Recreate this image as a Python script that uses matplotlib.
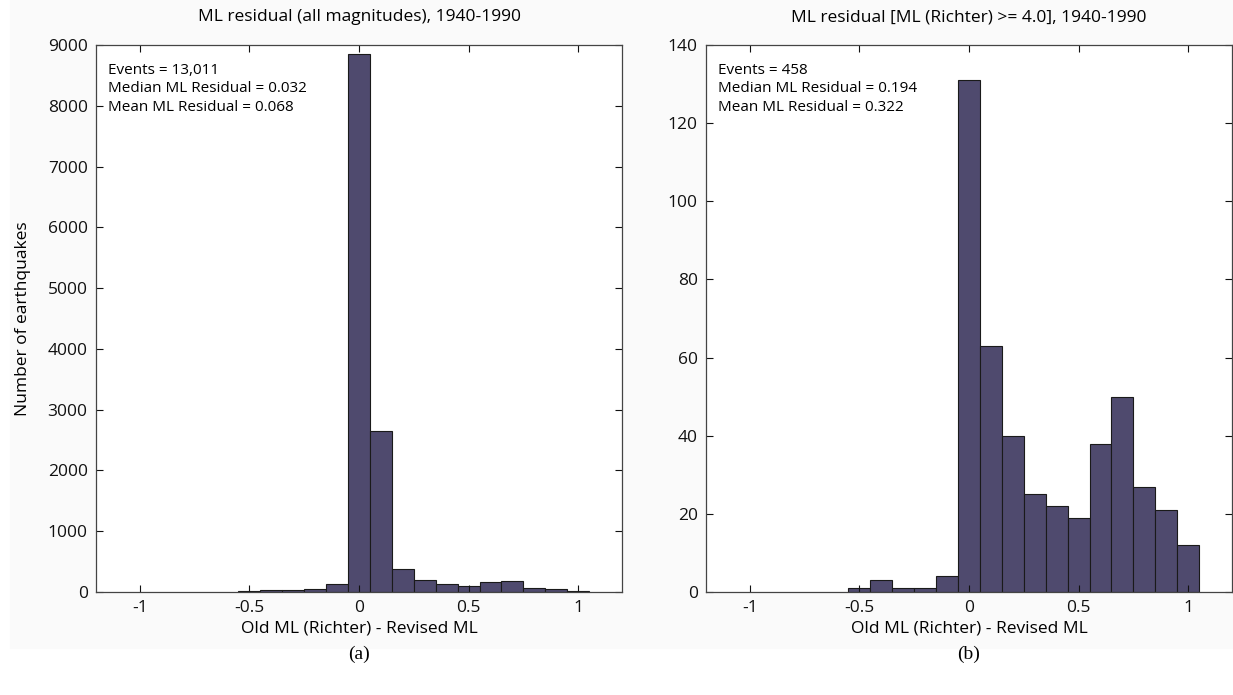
import matplotlib
matplotlib.use("Agg")
import matplotlib.pyplot as plt
from matplotlib.patches import Rectangle

bin_centers = [-0.5, -0.4, -0.3, -0.2, -0.1, 0.0, 0.1, 0.2, 0.3, 0.4, 0.5, 0.6, 0.7, 0.8, 0.9, 1.0]
counts_all = [10, 28, 33, 44, 127, 8860, 2650, 378, 191, 127, 94, 160, 181, 66, 49, 12]
counts_m4 = [1, 3, 1, 1, 4, 131, 63, 40, 25, 22, 19, 38, 50, 27, 21, 12]

titles = ["ML residual (all magnitudes), 1940-1990",
          "ML residual [ML (Richter) >= 4.0], 1940-1990"]
stats_texts = ["Events = 13,011\nMedian ML Residual = 0.032\nMean ML Residual = 0.068",
               "Events = 458\nMedian ML Residual = 0.194\nMean ML Residual = 0.322"]
xticks = [-1, -0.5, 0, 0.5, 1]
xtick_labels = ["-1", "-0.5", "0", "0.5", "1"]
yticks_all = [0, 1000, 2000, 3000, 4000, 5000, 6000, 7000, 8000, 9000]
yticks_m4 = [0, 20, 40, 60, 80, 100, 120, 140]
panel_labels = ["(a)", "(b)"]

plt.rcParams['font.family'] = ['Open Sans', 'DejaVu Sans']
W, H = 1233, 695
fig = plt.figure(figsize=(W / 100, H / 100), dpi=100)
fig.patch.set_facecolor('white')
fig.patches.append(Rectangle((10 / W, (H - 648) / H), (W - 10) / W, 648 / H,
                             transform=fig.transFigure, color='#fafafa', zorder=-10))

bar_color = '#4f4a6e'
axes_px = [(96, 45, 622, 592), (706, 45, 1232, 592)]
data = [counts_all, counts_m4]
yticks = [yticks_all, yticks_m4]

for i in range(2):
    x0, y0, x1, y1 = axes_px[i]
    ax = fig.add_axes([x0 / W, (H - y1) / H, (x1 - x0) / W, (y1 - y0) / H])
    ax.set_facecolor('white')
    ax.bar(bin_centers, data[i], width=0.1, color=bar_color, edgecolor='#1a1a1a', linewidth=0.8)
    ax.set_xlim(-1.2, 1.2)
    ax.set_ylim(yticks[i][0], yticks[i][-1])
    ax.set_xticks(xticks)
    ax.set_xticklabels(xtick_labels)
    ax.set_yticks(yticks[i])
    ax.tick_params(direction='in', top=True, right=True, labelsize=12.5, length=5,
                   width=0.8, colors='#111111', pad=6)
    for s in ax.spines.values():
        s.set_color('#444444')
        s.set_linewidth(0.9)
    ax.set_title(titles[i], fontsize=12.5, pad=17)
    ax.set_xlabel("Old ML (Richter) - Revised ML", fontsize=12.5, labelpad=3)
    if i == 0:
        ax.set_ylabel("Number of earthquakes", fontsize=12.5, labelpad=12)
    ax.text(0.022, 0.967, stats_texts[i], transform=ax.transAxes, va='top', ha='left',
            fontsize=11, linespacing=1.3)
    fig.text(((x0 + x1) / 2) / W, (H - 654) / H, panel_labels[i], ha='center', va='center',
             fontsize=14, family='Liberation Serif')

fig.savefig("out.png", dpi=100)
